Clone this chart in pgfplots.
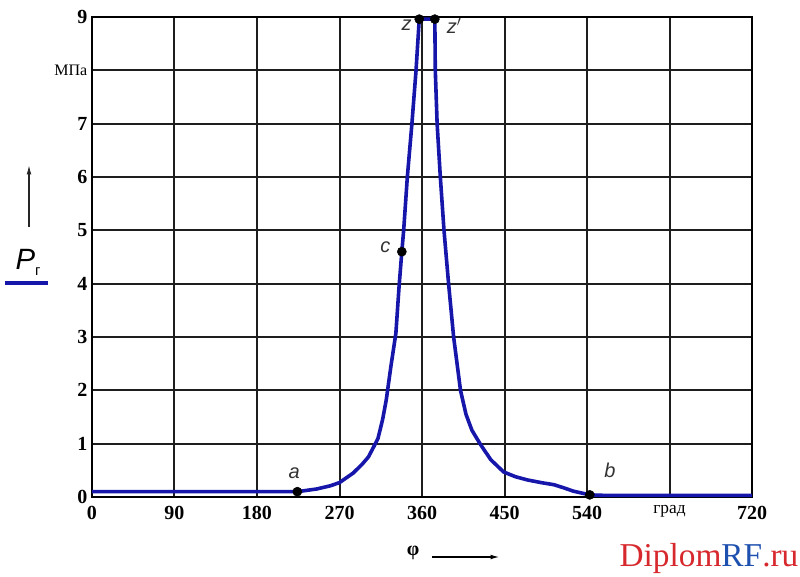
\documentclass[border=0pt]{standalone}
\usepackage{fontspec}
\setmainfont{Liberation Serif}
\setsansfont{Liberation Sans}
\usepackage{pgfplots}
\pgfplotsset{compat=1.18}
\usetikzlibrary{arrows.meta}
\definecolor{curveblue}{RGB}{22,22,170}
\definecolor{wmred}{RGB}{215,40,45}
\definecolor{wmblue}{RGB}{30,80,175}
\definecolor{gridc}{RGB}{30,30,30}

\pgfplotstableread{
x y
0 0.1
224 0.1
245 0.15
260 0.21
270 0.27
285 0.45
295 0.62
301.5 0.75
307 0.93
312 1.1
317 1.45
321 1.82
326 2.44
331.5 3.07
335 3.95
338 4.6
340 5.0
344 6.0
349 7.0
353.5 8.0
357 8.96
374 8.96
374.5 8.0
376.5 7.0
380 6.0
384 5.0
389 4.0
394.5 3.0
402 2.0
408 1.55
414.5 1.25
424 0.98
435 0.7
449 0.47
462 0.38
475 0.32
490 0.27
504 0.23
515 0.17
525 0.11
543 0.04
560 0.03
720 0.03
}\curvedata

\pgfplotstableread{
x y
224 0.1
338 4.6
357 8.96
374 8.96
543 0.04
}\pointdata

\begin{document}
\begin{tikzpicture}
\useasboundingbox (-69pt,-59.25pt) rectangle (531pt,372.75pt);
\begin{axis}[
 at={(0pt,0pt)}, anchor=south west,
 scale only axis, width=495pt, height=360pt,
 xmin=0, xmax=720, ymin=0, ymax=9,
 xtick={0,90,...,720},
 xticklabels={0,90,180,270,360,450,540,{\mdseries\fontsize{13}{15}\selectfont град},720},
 ytick={0,1,...,9},
 yticklabels={0,1,2,3,4,5,6,7,{\mdseries\fontsize{12}{14}\selectfont МПа},9},
 grid=major,
 major grid style={gridc, line width=1.5pt},
 axis line style={black, line width=1.6pt},
 major tick length=0pt,
 tick label style={font=\fontsize{15}{18}\selectfont\bfseries},
 xticklabel style={yshift=-3pt},
 clip=false,
]
\addplot[curveblue, line width=2.7pt, line join=round] table {\curvedata};
\addplot[only marks, mark=*, mark size=3.4pt, black] table {\pointdata};
\node[font=\sffamily\itshape\fontsize{15}{18}\selectfont, text=black!80] at (axis cs:220.6,0.45) {a};
\node[font=\sffamily\itshape\fontsize{15}{18}\selectfont, text=black!80] at (axis cs:565,0.5) {b};
\node[font=\sffamily\itshape\fontsize{15}{18}\selectfont, text=black!80] at (axis cs:320,4.69) {c};
\node[font=\sffamily\itshape\fontsize{15}{18}\selectfont, text=black!80] at (axis cs:343.3,8.84) {z};
\node[font=\sffamily\itshape\fontsize{15}{18}\selectfont, text=black!80] at (axis cs:395.2,8.84) {z$'$};
\end{axis}
\draw[-{Latex[length=7pt,width=3.5pt]}, line width=0.9pt, black!85] (-47.25pt,202.5pt) -- (-47.25pt,249pt);
\node at (-48pt,176pt) {\sffamily\itshape\fontsize{22}{24}\selectfont P\raisebox{-4pt}{\upshape\fontsize{11}{11}\selectfont г}};
\draw[curveblue, line width=3pt] (-65.25pt,160.5pt) -- (-33pt,160.5pt);
\node at (240.75pt,-42pt) {\fontsize{15}{17}\selectfont\bfseries φ};
\draw[-{Latex[length=7pt,width=3.5pt]}, line width=1.2pt] (255pt,-45pt) -- (306pt,-45pt);
\node at (462.75pt,-45.75pt) {\fontsize{25}{28}\selectfont\textcolor{wmred}{Diplom}\textcolor{wmblue}{RF}\textcolor{wmred}{.ru}};
\end{tikzpicture}
\end{document}
